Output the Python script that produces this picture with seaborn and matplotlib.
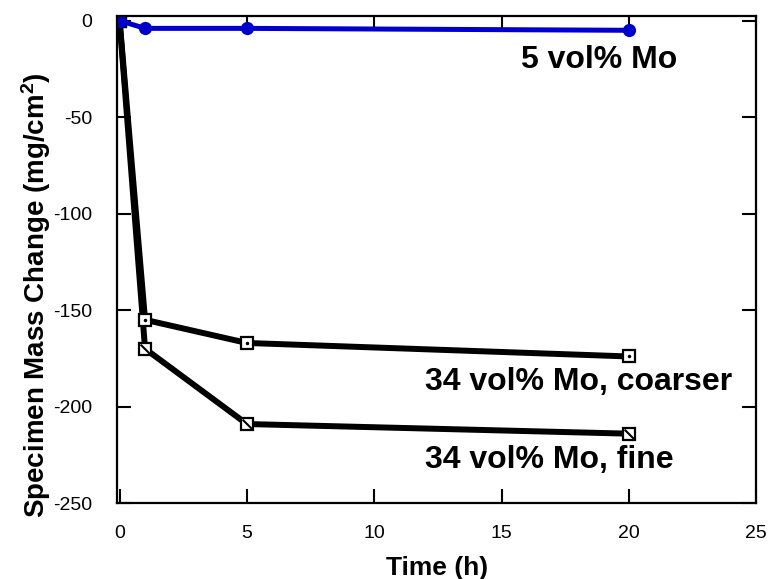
import numpy as np
import pandas as pd
import seaborn as sns
import matplotlib.pyplot as plt

# datos
time_h = [0, 1, 5, 20]
mo5 = [0, -4, -4, -5]
mo34_coarse = [0, -155, -167, -174]
mo34_fine = [0, -170, -209, -214]

x_ticks = [0, 5, 10, 15, 20, 25]
y_ticks = [0, -50, -100, -150, -200, -250]

sns.set_style("ticks")
plt.rcParams['font.family'] = ['Liberation Sans', 'DejaVu Sans']
plt.rcParams['axes.unicode_minus'] = False
for k in ['text.color', 'axes.labelcolor', 'xtick.color', 'ytick.color', 'axes.edgecolor']:
    plt.rcParams[k] = 'black'
plt.rcParams['mathtext.default'] = 'regular'

df = pd.DataFrame({"t": time_h, "mo5": mo5, "coarse": mo34_coarse, "fine": mo34_fine})

fig, ax = plt.subplots(figsize=(7.7, 5.79), dpi=100)
fig.subplots_adjust(left=0.152, right=0.982, top=0.972, bottom=0.131)

sq = dict(marker='s', markersize=8, markerfacecolor='white', markeredgecolor='black',
          markeredgewidth=1.6, color='black', linewidth=4.3)

sns.lineplot(data=df, x="t", y="fine", ax=ax, **sq)
sns.lineplot(data=df, x="t", y="coarse", ax=ax, **sq)
# detalle dentro de los cuadrados
ax.plot(df["t"], df["coarse"], linestyle='none', marker='.', markersize=3, color='black')
ax.plot(df["t"], df["fine"], linestyle='none', marker=[(-1, 1), (1, -1)], markersize=7,
        markeredgewidth=1.5, markeredgecolor='black')

sns.lineplot(data=df, x="t", y="mo5", ax=ax, color='#0000cc', linewidth=3.6,
             marker='o', markersize=9.5, markeredgewidth=0, markerfacecolor='#0000cc')

ax.set_xlim(-0.1, 25)
ax.set_ylim(-250, 2.3)
ax.set_xticks(x_ticks)
ax.set_yticks(y_ticks)
ax.tick_params(direction='in', length=10, width=1.5, top=True, right=True, labelsize=14)
ax.tick_params(axis='x', pad=16)
ax.tick_params(axis='y', pad=18)
for s in ax.spines.values():
    s.set_linewidth(1.6)

ax.set_xlabel("Time (h)", fontsize=19, fontweight='bold', labelpad=10)
ax.set_ylabel("Specimen Mass Change (mg/cm$^2$)", fontsize=20, fontweight='bold')
ax.yaxis.set_label_coords(-0.10, 0.427)

ax.text(15.75, -20.5, "5 vol% Mo", fontsize=23, fontweight='bold', ha='left', va='center')
ax.text(12.0, -187, "34 vol% Mo, coarser", fontsize=23, fontweight='bold', ha='left', va='center')
ax.text(12.0, -227.5, "34 vol% Mo, fine", fontsize=23, fontweight='bold', ha='left', va='center')

plt.savefig("out.png", dpi=100)
